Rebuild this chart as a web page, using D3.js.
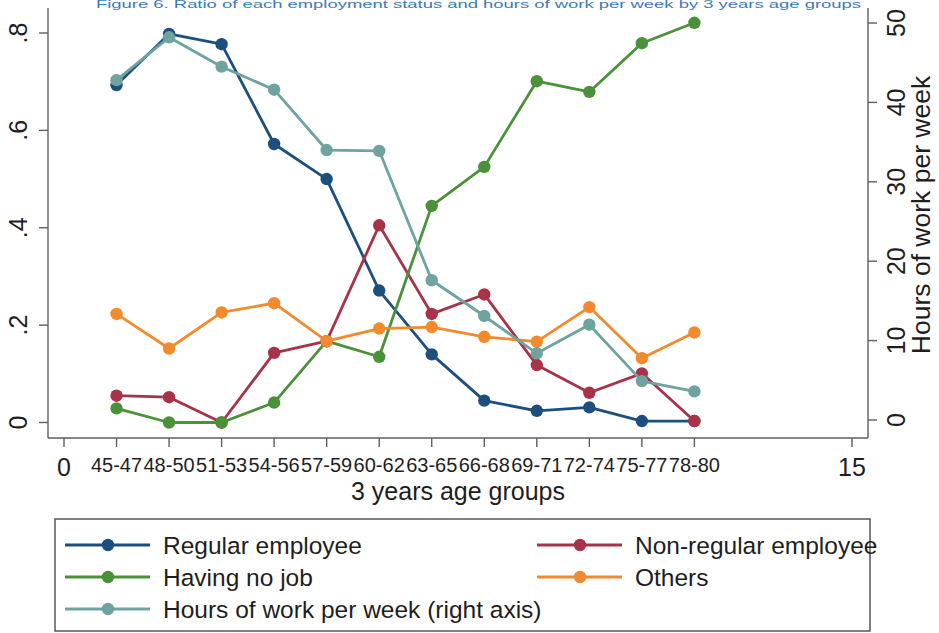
<!DOCTYPE html>
<html>
<head>
<meta charset="utf-8">
<script src="https://cdn.jsdelivr.net/npm/d3@7"></script>
<style>
  html, body { margin: 0; padding: 0; background: #ffffff; }
  svg { display: block; font-family: "Liberation Sans", Arial, sans-serif; }
</style>
</head>
<body>
<svg id="chart" width="939" height="633"></svg>
<script>
// Age groups (plotted at positions 1..12 on a 0..15 numeric axis)
const ageGroups = ["45-47","48-50","51-53","54-56","57-59","60-62","63-65","66-68","69-71","72-74","75-77","78-80"];

// Shares by employment status (left axis)
const regularEmployee    = [0.693, 0.798, 0.777, 0.572, 0.500, 0.271, 0.140, 0.045, 0.024, 0.031, 0.003, 0.003];
const nonRegularEmployee = [0.055, 0.052, 0.000, 0.143, 0.167, 0.405, 0.223, 0.263, 0.118, 0.061, 0.101, 0.003];
const havingNoJob        = [0.029, 0.000, 0.000, 0.041, 0.167, 0.135, 0.445, 0.525, 0.701, 0.679, 0.779, 0.821];
const others             = [0.223, 0.152, 0.226, 0.245, 0.167, 0.193, 0.196, 0.176, 0.166, 0.237, 0.132, 0.185];

// Hours of work per week (right axis)
const hoursPerWeek       = [42.8, 48.2, 44.5, 41.6, 34.0, 33.9, 17.6, 13.1, 8.4, 12.0, 4.9, 3.6];

// Axis ticks
const leftTicks  = [0, 0.2, 0.4, 0.6, 0.8];
const leftTickLabels = ["0", ".2", ".4", ".6", ".8"];
const rightTicks = [0, 10, 20, 30, 40, 50];
const xNumericTicks = [0, 15];

const svg = d3.select("#chart");

const x  = d3.scaleLinear().domain([0, 15]).range([64, 852]);
const yL = d3.scaleLinear().domain([0, 0.8]).range([422.5, 33]);
const yR = d3.scaleLinear().domain([0, 50]).range([420, 23]);

const axisColor = "#5a6066";
const textColor = "#1e1e1e";

// Title strip at the top edge
svg.append("text")
  .attr("x", 96).attr("y", 8)
  .attr("textLength", 765).attr("lengthAdjust", "spacingAndGlyphs")
  .attr("font-size", 10).attr("fill", "#3b7bb8")
  .text("Figure 6. Ratio of each employment status and hours of work per week by 3 years age groups");

// Axis frame
const plotLeft = 48, plotRight = 868, plotTop = 8, plotBottom = 438;
svg.append("line").attr("x1", plotLeft).attr("x2", plotLeft).attr("y1", plotTop).attr("y2", plotBottom)
  .attr("stroke", axisColor).attr("stroke-width", 1.4);
svg.append("line").attr("x1", plotRight).attr("x2", plotRight).attr("y1", plotTop).attr("y2", plotBottom)
  .attr("stroke", axisColor).attr("stroke-width", 1.4);
svg.append("line").attr("x1", plotLeft).attr("x2", plotRight).attr("y1", plotBottom).attr("y2", plotBottom)
  .attr("stroke", axisColor).attr("stroke-width", 1.4);

// Left axis ticks and rotated labels
const gL = svg.append("g");
gL.selectAll("line").data(leftTicks).join("line")
  .attr("x1", plotLeft - 9).attr("x2", plotLeft)
  .attr("y1", d => yL(d)).attr("y2", d => yL(d))
  .attr("stroke", axisColor).attr("stroke-width", 1.4);
gL.selectAll("text").data(leftTicks).join("text")
  .attr("transform", d => `translate(27,${yL(d)}) rotate(-90)`)
  .attr("text-anchor", "middle")
  .attr("font-size", 25).attr("fill", textColor)
  .text((d, i) => leftTickLabels[i]);

// Right axis ticks, rotated labels and title
const gR = svg.append("g");
gR.selectAll("line").data(rightTicks).join("line")
  .attr("x1", plotRight).attr("x2", plotRight + 9)
  .attr("y1", d => yR(d)).attr("y2", d => yR(d))
  .attr("stroke", axisColor).attr("stroke-width", 1.4);
gR.selectAll("text").data(rightTicks).join("text")
  .attr("transform", d => `translate(905,${yR(d)}) rotate(-90)`)
  .attr("text-anchor", "middle")
  .attr("font-size", 25).attr("fill", textColor)
  .text(d => d);
svg.append("text")
  .attr("transform", "translate(930,215) rotate(-90)")
  .attr("text-anchor", "middle")
  .attr("font-size", 26.5).attr("fill", textColor)
  .text("Hours of work per week");

// X axis ticks and labels
const catPositions = ageGroups.map((d, i) => i + 1);
const allXTicks = xNumericTicks.concat(catPositions);
svg.append("g").selectAll("line").data(allXTicks).join("line")
  .attr("x1", d => x(d)).attr("x2", d => x(d))
  .attr("y1", plotBottom).attr("y2", plotBottom + 9)
  .attr("stroke", axisColor).attr("stroke-width", 1.4);
svg.append("g").selectAll("text").data(xNumericTicks).join("text")
  .attr("x", d => x(d)).attr("y", 476)
  .attr("text-anchor", "middle")
  .attr("font-size", 25).attr("fill", textColor)
  .text(d => d);
svg.append("g").selectAll("text").data(ageGroups).join("text")
  .attr("x", (d, i) => x(i + 1)).attr("y", 472)
  .attr("text-anchor", "middle")
  .attr("font-size", 20).attr("fill", textColor)
  .text(d => d);
svg.append("text")
  .attr("x", 458).attr("y", 500)
  .attr("text-anchor", "middle")
  .attr("font-size", 25).attr("fill", textColor)
  .text("3 years age groups");

// Series
const series = [
  { name: "Regular employee", values: regularEmployee, scale: yL, color: "#1d4f7e" },
  { name: "Non-regular employee", values: nonRegularEmployee, scale: yL, color: "#a83349" },
  { name: "Having no job", values: havingNoJob, scale: yL, color: "#4b913a" },
  { name: "Others", values: others, scale: yL, color: "#f28a2e" },
  { name: "Hours of work per week (right axis)", values: hoursPerWeek, scale: yR, color: "#6fa39f" }
];

const lineGen = (s) => d3.line()
  .x((d, i) => x(i + 1))
  .y(d => s.scale(d));

series.forEach(s => {
  const g = svg.append("g");
  g.append("path")
    .attr("d", lineGen(s)(s.values))
    .attr("fill", "none").attr("stroke", s.color)
    .attr("stroke-width", 2.8).attr("stroke-linejoin", "round");
  g.selectAll("circle").data(s.values).join("circle")
    .attr("cx", (d, i) => x(i + 1)).attr("cy", d => s.scale(d))
    .attr("r", 6.2).attr("fill", s.color);
});

// Legend
const legend = svg.append("g");
legend.append("rect")
  .attr("x", 55).attr("y", 519).attr("width", 815).attr("height", 112)
  .attr("fill", "none").attr("stroke", "#4a4a4a").attr("stroke-width", 1.4);
const legendPos = [
  { lx: 65, ly: 545 }, { lx: 537, ly: 545 },
  { lx: 65, ly: 577 }, { lx: 537, ly: 577 },
  { lx: 65, ly: 609 }
];
series.forEach((s, i) => {
  const p = legendPos[i];
  legend.append("line")
    .attr("x1", p.lx).attr("x2", p.lx + 85).attr("y1", p.ly).attr("y2", p.ly)
    .attr("stroke", s.color).attr("stroke-width", 2.8);
  legend.append("circle")
    .attr("cx", p.lx + 43).attr("cy", p.ly).attr("r", 6.2).attr("fill", s.color);
  legend.append("text")
    .attr("x", p.lx + 98).attr("y", p.ly + 9)
    .attr("font-size", 24.5).attr("fill", textColor)
    .text(s.name);
});
</script>
</body>
</html>
